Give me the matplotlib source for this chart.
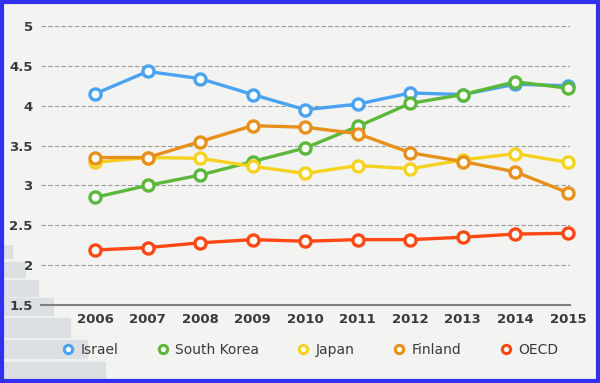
import matplotlib
matplotlib.use("Agg")
import matplotlib.pyplot as plt
from matplotlib.patches import Rectangle
from matplotlib.lines import Line2D

years = [2006, 2007, 2008, 2009, 2010, 2011, 2012, 2013, 2014, 2015]
israel = [4.15, 4.43, 4.34, 4.14, 3.95, 4.02, 4.16, 4.14, 4.27, 4.25]
south_korea = [2.85, 3.00, 3.13, 3.30, 3.47, 3.74, 4.03, 4.14, 4.30, 4.22]
japan = [3.29, 3.35, 3.34, 3.24, 3.15, 3.25, 3.21, 3.32, 3.40, 3.29]
finland = [3.35, 3.35, 3.55, 3.75, 3.73, 3.65, 3.41, 3.30, 3.17, 2.91]
oecd = [2.19, 2.22, 2.28, 2.32, 2.30, 2.32, 2.32, 2.35, 2.39, 2.40]

names = ["Israel", "South Korea", "Japan", "Finland", "OECD"]
colors = ["#4aa3f0", "#5cb83a", "#f5d21f", "#e8901c", "#ff4814"]
series = [israel, south_korea, japan, finland, oecd]
yticks = [1.5, 2, 2.5, 3, 3.5, 4, 4.5, 5]

fig = plt.figure(figsize=(6.0, 3.83), dpi=100)
fig.patch.set_facecolor("#f3f3f2")

# staircase decoration bottom-left
for y0, h, w in [(245, 13, 12), (262, 15, 25), (280, 16, 38), (298, 17, 53),
                 (318, 19, 70), (340, 18, 87), (362, 18, 105)]:
    fig.add_artist(Rectangle((0, 1 - (y0 + h) / 383), w / 600, h / 383,
                             transform=fig.transFigure, color="#dde0e3", zorder=0))

ax = fig.add_axes([41 / 600, 1 - 305 / 383, 529 / 600, 279 / 383])
ax.set_facecolor("none")

for vals, c, n in zip(series, colors, names):
    ax.plot(years, vals, color=c, lw=2.4, marker="o", ms=8, mfc="white",
            mec=c, mew=2.4, label=n, clip_on=False, zorder=3)

ax.set_xlim(2004.97, 2015.04)
ax.set_ylim(1.5, 5)
ax.set_yticks(yticks)
ax.set_yticklabels([f"{t:g}" for t in yticks])
ax.set_xticks(years)
ax.grid(axis="y", color="#9a9a9a", ls=(0, (4, 2)), lw=0.8)
for s in ["top", "right", "left"]:
    ax.spines[s].set_visible(False)
ax.spines["bottom"].set_color("#808080")
ax.spines["bottom"].set_linewidth(1.5)
ax.tick_params(length=0, labelsize=9.5, colors="#333333")
ax.tick_params(axis="y", pad=6)
ax.tick_params(axis="x", pad=6)
for lbl in ax.get_xticklabels() + ax.get_yticklabels():
    lbl.set_fontweight("semibold")
    lbl.set_color("#3a3a3a")

handles = [Line2D([], [], ls="none", marker="o", ms=6, mfc="white", mec=c, mew=2.2)
           for c in colors]
fig.legend(handles, names, loc="center", bbox_to_anchor=(0.515, 1 - 350 / 383),
           ncol=5, frameon=False, fontsize=10, handletextpad=0.3, handlelength=1.2,
           columnspacing=2.6, labelcolor="#3a3a3a")

# blue frame
fig.add_artist(Rectangle((0.003, 0.004), 0.994, 0.992, transform=fig.transFigure,
                         fill=False, ec="#3030ee", lw=3, zorder=10))

fig.savefig("out.png", dpi=100, facecolor=fig.get_facecolor())
